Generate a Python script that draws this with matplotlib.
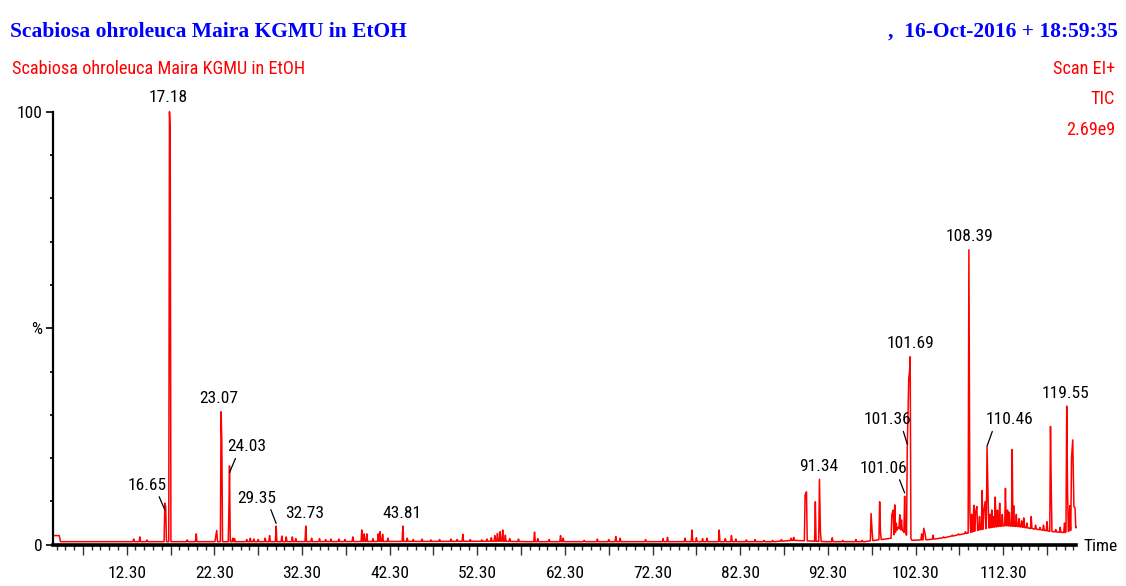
import numpy as np
import matplotlib
matplotlib.use("Agg")
import matplotlib.pyplot as plt
from matplotlib import font_manager as fm
from matplotlib.font_manager import FontProperties
from matplotlib.ticker import FixedLocator, FixedFormatter

# ---------------- data ----------------
title = "Scabiosa ohroleuca Maira KGMU in EtOH"
date_text = ",  16-Oct-2016 + 18:59:35"
info_lines = ["Scan EI+", "TIC", "2.69e9"]

baseline_t = [3.9, 4.6, 4.75, 30.0, 55.0, 58.0, 86.0, 88.5, 92.0, 96.5, 99.5,
              100.3, 101.0, 101.9, 104.0, 105.5, 107.0, 108.3, 109.5, 111.0,
              112.5, 114.0, 116.0, 118.0, 119.4, 120.61]
baseline_pct = [2.1, 2.1, 0.7, 0.7, 0.8, 0.7, 0.7, 1.0, 0.7, 0.7, 1.5,
                4.0, 3.0, 1.0, 1.2, 1.6, 2.2, 2.7, 3.4, 4.0,
                4.4, 4.2, 3.6, 3.0, 2.8, 4.0]

peak_rt = [13.1, 13.8, 14.6, 16.65, 16.75, 17.18, 17.26, 19.2, 20.23, 22.45,
           22.57, 23.07, 23.15, 23.97, 24.03, 24.4, 24.6, 26.0, 26.4, 26.8,
           27.3, 28.1, 28.6, 29.35, 30.0, 30.5, 31.2, 31.6, 32.73, 33.4,
           34.3, 35.0, 35.6, 36.5, 37.2, 38.1, 39.12, 39.4, 39.7, 40.4,
           41.0, 41.2, 41.5, 42.1, 43.81, 44.3, 45.0, 46.0, 47.0, 48.0,
           49.3, 50.0, 50.65, 51.5, 52.8, 53.4, 53.9, 54.3, 54.6, 54.9,
           55.2, 55.5, 56.0, 57.0, 58.83, 59.2, 60.5, 61.8, 62.1, 64.5,
           66.0, 67.3, 68.1, 68.6, 71.5, 73.5, 74.0, 76.0, 76.8, 77.3,
           78.0, 78.5, 79.9, 80.6, 81.3, 81.8, 83.0, 84.0, 85.0, 86.0,
           87.0, 88.1, 88.4, 89.7, 89.86, 90.87, 91.34, 91.45,
           92.8, 94.0, 95.5, 96.2, 97.23, 97.35, 98.21, 98.3, 99.6, 99.75,
           99.93, 100.1, 100.5, 100.7, 101.06, 101.36, 101.44, 101.53, 101.62, 101.69,
           103.0, 103.24, 103.4, 104.3, 105.5, 106.5, 107.2, 108.0, 108.39, 108.5,
           108.7, 108.95, 109.15, 109.3, 109.6, 109.9, 110.1, 110.25, 110.46, 110.6,
           110.8, 111.0, 111.2, 111.4, 111.65, 111.9, 112.2, 112.56, 112.8, 113.0,
           113.33, 113.5, 113.8, 114.1, 114.4, 114.65, 115.0, 115.5, 116.0, 116.5,
           116.9, 117.3, 117.7, 117.78, 118.3, 118.8, 119.3, 119.55, 119.65, 119.9,
           120.1, 120.24, 120.37, 120.5]
peak_pct = [1.3, 1.8, 1.1, 9.6, 8.8, 100.0, 96.0, 1.1, 2.5, 1.8,
            3.3, 30.7, 23.8, 9.5, 18.2, 1.5, 1.4, 1.2, 1.5, 1.3,
            1.2, 1.5, 2.1, 4.3, 2.0, 1.8, 1.8, 1.4, 4.3, 1.5,
            1.4, 1.2, 1.3, 1.3, 1.2, 1.8, 3.4, 2.5, 2.5, 1.4,
            2.5, 3.0, 2.4, 1.5, 4.3, 1.5, 1.2, 1.3, 1.1, 1.2,
            1.3, 1.2, 2.4, 1.2, 1.1, 1.3, 1.6, 2.1, 2.6, 3.0,
            3.4, 2.2, 1.4, 1.3, 2.9, 1.4, 1.2, 2.1, 1.5, 1.0,
            1.3, 1.2, 1.9, 1.5, 1.2, 1.4, 1.7, 1.5, 3.4, 1.6,
            1.4, 1.5, 3.4, 1.4, 2.1, 1.3, 1.1, 1.2, 1.0, 1.0,
            1.2, 1.5, 1.7, 11.5, 12.2, 9.9, 15.1, 3.0,
            1.6, 1.0, 1.2, 1.0, 7.2, 3.0, 9.9, 3.0, 6.9, 8.0,
            9.2, 5.0, 6.9, 5.7, 11.2, 22.6, 29.6, 38.5, 40.0, 43.4,
            2.5, 3.8, 2.5, 2.2, 1.8, 2.2, 2.5, 3.0, 68.1, 8.0,
            7.0, 9.1, 7.5, 8.8, 6.5, 12.5, 8.0, 10.0, 22.6, 9.0,
            7.0, 8.0, 6.5, 11.0, 8.0, 9.6, 7.0, 13.0, 8.0, 7.5,
            22.0, 9.0, 7.0, 6.0, 5.5, 6.2, 5.0, 6.5, 4.5, 4.0,
            4.5, 5.3, 27.3, 14.0, 3.5, 4.0, 5.0, 32.0, 12.0, 9.0,
            20.0, 24.2, 8.8, 8.5]

labeled_rt = [16.65, 17.18, 23.07, 24.03, 29.35, 32.73, 43.81, 91.34,
              101.06, 101.36, 101.69, 108.39, 110.46, 119.55]

x_label_pos = [12.3, 22.3, 32.3, 42.3, 52.3, 62.3, 72.3, 82.3, 92.3, 102.3, 112.3]

# ---------------- styling / layout ----------------
W, H = 1126, 586
RED = "#ff0000"
BLUE = "#0000ff"
PX_PER_PCT = (544.7 - 111.7) / 100.0

def pick_sans():
    fonts = fm.fontManager.ttflist
    for f in fonts:
        if f.name == "Liberation Sans Narrow" and f.weight in (400, "normal", "regular") and f.style == "normal":
            return f.fname
    cands = []
    for f in fonts:
        fn = f.fname.lower()
        if f.style != "normal" or "bold" in fn or "italic" in fn or "light" in fn:
            continue
        if ("condensed" in fn or "narrow" in fn) and ("semi" not in fn and "extra" not in fn
                                                      and "ultra" not in fn):
            if any(k in fn for k in ("liberation", "dejavu", "noto", "open", "roboto", "lato")):
                if "mono" in fn or "serif" in fn or "display" in fn:
                    continue
                cands.append(f.fname)
    if cands:
        cands.sort(key=lambda p: (0 if "liberation" in p.lower() else 1 if "roboto" in p.lower()
                                  else 2 if "noto" in p.lower() else 3, len(p)))
        return cands[0]
    return fm.findfont(FontProperties(family="Liberation Sans"))

SANS_FILE = pick_sans()

fig = plt.figure(figsize=(W / 100, H / 100), dpi=100)
renderer = fig.canvas.get_renderer()

def fit_size(text, fp_kwargs, target_px, max_size):
    fp = FontProperties(**fp_kwargs, size=10)
    t = fig.text(0, 0, text, fontproperties=fp)
    wpx = t.get_window_extent(renderer).width
    t.remove()
    return min(max_size, 10 * target_px / wpx)

fs_lab = fit_size("12.30", {"fname": SANS_FILE}, 38.5, 14.5)
fs_sub = fit_size(title, {"fname": SANS_FILE}, 293, 16)
fs_title = fit_size(title, {"family": "Liberation Serif", "weight": "bold"}, 398, 24)
LAB_FP = FontProperties(fname=SANS_FILE, size=fs_lab)
SUB_FP = FontProperties(fname=SANS_FILE, size=fs_sub)
TITLE_FP = FontProperties(family="Liberation Serif", weight="bold", size=fs_title)

# label offsets in pixels: (dx, dy) of text centre from apex, leader relpos, leader end dy
label_layout = {
    16.65: (-18, 18, (0.77, 0.0), -6.7),
    17.18: (-1, 14, None, 0),
    23.07: (-2, 13, None, 0),
    24.03: (17, 19, (0.26, 0.0), -6.7),
    29.35: (-19, 28, (0.81, 0.0), 2.7),
    32.73: (-1, 13, None, 0),
    43.81: (-1, 13, None, 0),
    91.34: (-1, 13, None, 0),
    101.06: (-21, 28, (0.8, 0.0), 3.3),
    101.36: (-20, 27, (0.81, 0.0), 2.7),
    101.69: (0, 13, None, 0),
    108.39: (1, 13, None, 0),
    110.46: (22, 27, (0.18, 0.0), 0.7),
    119.55: (-1, 13, None, 0),
}

# ---------------- build the trace ----------------
w = 0.085
pts = []  # (time, value, kind, owner)
for t, b in zip(baseline_t, baseline_pct):
    pts.append((t, b, "k", None))
for t, h in zip(peak_rt, peak_pct):
    b = float(np.interp(t, baseline_t, baseline_pct))
    pts.append((t - w, b, "b", t))
    pts.append((t, h, "a", t))
    pts.append((t + w, b, "b", t))
keep = []
for p in pts:
    if p[2] == "b":
        if any(abs(p[0] - q) < w - 1e-9 for q in peak_rt if q != p[3]):
            continue
    if p[2] == "k":
        if any(abs(p[0] - q) < w for q in peak_rt):
            continue
    keep.append(p)
keep.sort(key=lambda p: p[0])
xs = [p[0] for p in keep]
ys = [p[1] for p in keep]

ax = fig.add_axes([53 / W, (H - 544.7) / H, (1076 - 53) / W, (544.7 - 111.7) / H])
ax.plot(xs, ys, color=RED, lw=1.1, clip_on=False)
ax.set_xlim(3.89, 120.61)
ax.set_ylim(0, 100)

for s in ("top", "right"):
    ax.spines[s].set_visible(False)
ax.spines["left"].set_linewidth(1.6)
ax.spines["bottom"].set_linewidth(2.6)
ax.spines["left"].set_bounds(0, 100)

major_x = [7.3 + 5 * i for i in range(23)]
major_lbl = [("%.2f" % v if any(abs(v - p) < 1e-6 for p in x_label_pos) else "") for v in major_x]
minor_x = [4.3 + i for i in range(117) if all(abs(4.3 + i - m) > 1e-6 for m in major_x)]
ax.xaxis.set_major_locator(FixedLocator(major_x))
ax.xaxis.set_major_formatter(FixedFormatter(major_lbl))
ax.xaxis.set_minor_locator(FixedLocator(minor_x))
ax.tick_params(axis="x", which="major", length=7.2, width=1.0, pad=8, color="#333333")
ax.tick_params(axis="x", which="minor", length=3.6, width=1.0, color="#333333")

ax.yaxis.set_major_locator(FixedLocator([0, 50, 100]))
ax.yaxis.set_major_formatter(FixedFormatter(["0", "%", "100"]))
ax.yaxis.set_minor_locator(FixedLocator([10, 20, 30, 40, 60, 70, 80, 90]))
ax.tick_params(axis="y", which="major", length=5, width=1.2, pad=2.5)
ax.tick_params(axis="y", which="minor", length=2.4, width=1.2)
for lab in ax.get_xticklabels() + ax.get_yticklabels():
    lab.set_fontproperties(LAB_FP)

peak_lookup = dict(zip(peak_rt, peak_pct))
for rt in labeled_rt:
    dx, dy, rel, end_dy = label_layout[rt]
    h = peak_lookup[rt]
    if rel is None:
        ax.annotate("%.2f" % rt, xy=(rt, h), xytext=(dx, dy), textcoords="offset pixels",
                    ha="center", va="center", fontproperties=LAB_FP, color="black",
                    annotation_clip=False)
    else:
        y_end = h + end_dy / PX_PER_PCT
        ax.annotate("%.2f" % rt, xy=(rt, y_end), xytext=(dx, dy - end_dy),
                    textcoords="offset pixels", ha="center", va="center",
                    fontproperties=LAB_FP, color="black", annotation_clip=False,
                    arrowprops=dict(arrowstyle="-", color="black", lw=0.9,
                                    shrinkA=1, shrinkB=0, relpos=rel))

fig.text(10 / W, 1 - 36.7 / H, title, ha="left", va="baseline",
         fontproperties=TITLE_FP, color=BLUE)
fig.text(1118 / W, 1 - 36.7 / H, date_text, ha="right", va="baseline",
         fontproperties=TITLE_FP, color=BLUE)
fig.text(12 / W, 1 - 74 / H, title, ha="left", va="baseline",
         fontproperties=SUB_FP, color=RED)
for i, line in enumerate(info_lines):
    fig.text(1115 / W, 1 - (74 + 30.5 * i) / H, line, ha="right", va="baseline",
             fontproperties=SUB_FP, color=RED)
fig.text(1083 / W, 1 - 546.7 / H, "Time", ha="left", va="center",
         fontproperties=LAB_FP, color="black")

fig.savefig("out.png", dpi=100)
